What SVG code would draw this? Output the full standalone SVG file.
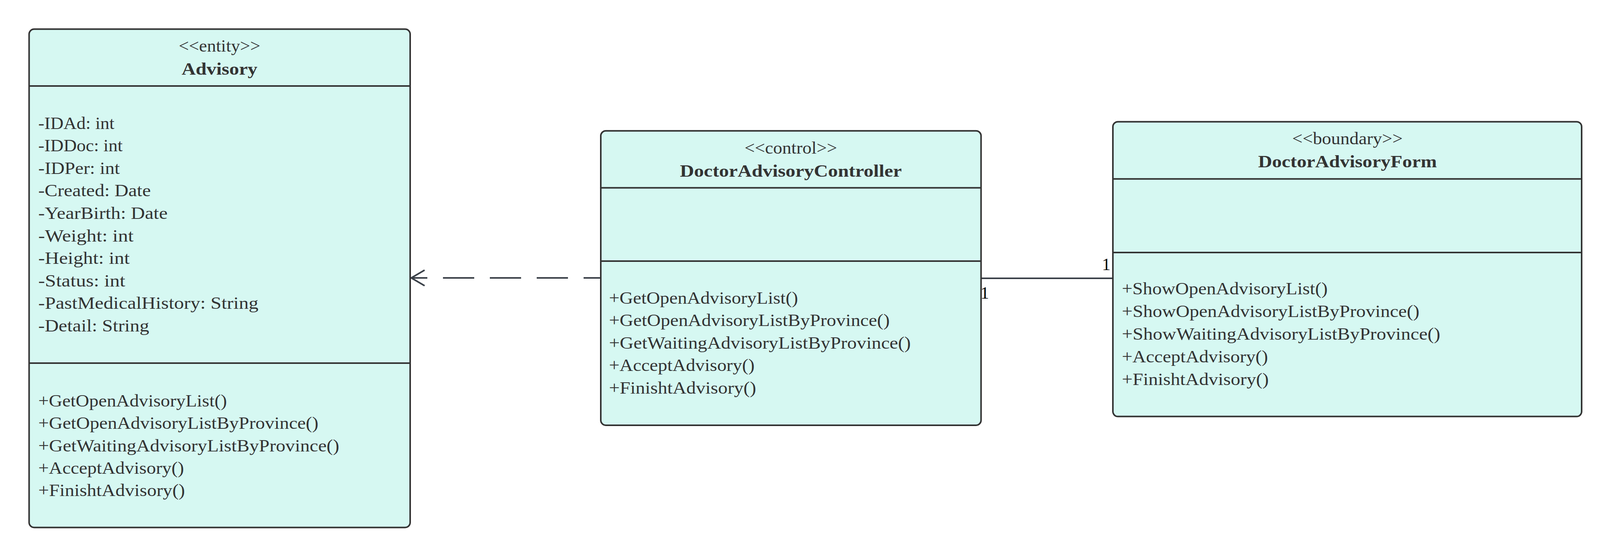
<svg xmlns="http://www.w3.org/2000/svg" width="4125" height="1425" viewBox="0 0 4125 1425">
<style>
.box{fill:#d6f8f2;stroke:#333333;stroke-width:4}
.div{stroke:#333333;stroke-width:4}
.t{font-family:"Liberation Serif","Times New Roman",serif;font-size:44px;fill:#333333}
.c{text-anchor:middle}
.b{font-weight:bold}
.edge{fill:none;stroke:#3a4048;stroke-width:4}
.lbl{font-family:"Liberation Serif","Times New Roman",serif;font-size:44px;fill:#000000}
</style>
<defs>
<marker id="openArrow" markerUnits="userSpaceOnUse" markerWidth="50" markerHeight="50" refX="2" refY="22" orient="auto" viewBox="0 0 50 44">
<path d="M36 2 L2 22 L36 42" fill="none" stroke="#3a4048" stroke-width="4"/>
</marker>
</defs>
<rect width="4125" height="1425" fill="#ffffff"/>
<g id="connectors">
<path class="edge" d="M1053 711 H1538" stroke-dasharray="80 40" stroke-dashoffset="39"/>
<path class="edge" d="M1053 711 H1094" marker-start="url(#openArrow)"/>
<path class="edge" d="M2511.5 712 H2849"/>
<text class="lbl" x="2510" y="763.5">1</text>
<text class="lbl" x="2821" y="690.5">1</text>
</g>
<g id="Advisory">
<rect class="box" x="74.5" y="74.5" width="975.5" height="1275" rx="13"/>
<line class="div" x1="74.5" y1="220" x2="1050" y2="220"/>
<line class="div" x1="74.5" y1="929" x2="1050" y2="929"/>
<text class="t c" x="562" y="131.7" textLength="209" lengthAdjust="spacingAndGlyphs">&lt;&lt;entity&gt;&gt;</text>
<text class="t c b" x="562" y="191" textLength="194" lengthAdjust="spacingAndGlyphs">Advisory</text>
<text class="t" x="98" y="329.5" textLength="195" lengthAdjust="spacingAndGlyphs">-IDAd: int</text>
<text class="t" x="98" y="387.1" textLength="216" lengthAdjust="spacingAndGlyphs">-IDDoc: int</text>
<text class="t" x="98" y="444.7" textLength="208.6" lengthAdjust="spacingAndGlyphs">-IDPer: int</text>
<text class="t" x="98" y="502.3" textLength="288" lengthAdjust="spacingAndGlyphs">-Created: Date</text>
<text class="t" x="98" y="559.9" textLength="331" lengthAdjust="spacingAndGlyphs">-YearBirth: Date</text>
<text class="t" x="98" y="617.5" textLength="244" lengthAdjust="spacingAndGlyphs">-Weight: int</text>
<text class="t" x="98" y="675.1" textLength="234" lengthAdjust="spacingAndGlyphs">-Height: int</text>
<text class="t" x="98" y="732.7" textLength="222.6" lengthAdjust="spacingAndGlyphs">-Status: int</text>
<text class="t" x="98" y="790.3" textLength="563.5" lengthAdjust="spacingAndGlyphs">-PastMedicalHistory: String</text>
<text class="t" x="98" y="847.9" textLength="284" lengthAdjust="spacingAndGlyphs">-Detail: String</text>
<text class="t" x="98" y="1040" textLength="483" lengthAdjust="spacingAndGlyphs">+GetOpenAdvisoryList()</text>
<text class="t" x="98" y="1097.3" textLength="717" lengthAdjust="spacingAndGlyphs">+GetOpenAdvisoryListByProvince()</text>
<text class="t" x="98" y="1154.6" textLength="770.5" lengthAdjust="spacingAndGlyphs">+GetWaitingAdvisoryListByProvince()</text>
<text class="t" x="98" y="1211.9" textLength="373" lengthAdjust="spacingAndGlyphs">+AcceptAdvisory()</text>
<text class="t" x="98" y="1269.2" textLength="375.5" lengthAdjust="spacingAndGlyphs">+FinishtAdvisory()</text>
</g>
<g id="DoctorAdvisoryController">
<rect class="box" x="1538" y="334.7" width="973.5" height="753.3" rx="13"/>
<line class="div" x1="1538" y1="480.6" x2="2511.5" y2="480.6"/>
<line class="div" x1="1538" y1="668" x2="2511.5" y2="668"/>
<text class="t c" x="2024.5" y="393" textLength="237" lengthAdjust="spacingAndGlyphs">&lt;&lt;control&gt;&gt;</text>
<text class="t c b" x="2024.5" y="451.5" textLength="568" lengthAdjust="spacingAndGlyphs">DoctorAdvisoryController</text>
<text class="t" x="1559" y="777" textLength="484" lengthAdjust="spacingAndGlyphs">+GetOpenAdvisoryList()</text>
<text class="t" x="1559" y="834.4" textLength="718.6" lengthAdjust="spacingAndGlyphs">+GetOpenAdvisoryListByProvince()</text>
<text class="t" x="1559" y="891.8" textLength="772.6" lengthAdjust="spacingAndGlyphs">+GetWaitingAdvisoryListByProvince()</text>
<text class="t" x="1559" y="949.2" textLength="372.6" lengthAdjust="spacingAndGlyphs">+AcceptAdvisory()</text>
<text class="t" x="1559" y="1006.6" textLength="376.7" lengthAdjust="spacingAndGlyphs">+FinishtAdvisory()</text>
</g>
<g id="DoctorAdvisoryForm">
<rect class="box" x="2849" y="311.4" width="1200" height="754.2" rx="13"/>
<line class="div" x1="2849" y1="457.8" x2="4049" y2="457.8"/>
<line class="div" x1="2849" y1="646" x2="4049" y2="646"/>
<text class="t c" x="3449.5" y="369" textLength="283" lengthAdjust="spacingAndGlyphs">&lt;&lt;boundary&gt;&gt;</text>
<text class="t c b" x="3449.5" y="428" textLength="457.6" lengthAdjust="spacingAndGlyphs">DoctorAdvisoryForm</text>
<text class="t" x="2872" y="753" textLength="526.7" lengthAdjust="spacingAndGlyphs">+ShowOpenAdvisoryList()</text>
<text class="t" x="2872" y="810.9" textLength="761.8" lengthAdjust="spacingAndGlyphs">+ShowOpenAdvisoryListByProvince()</text>
<text class="t" x="2872" y="868.8" textLength="815" lengthAdjust="spacingAndGlyphs">+ShowWaitingAdvisoryListByProvince()</text>
<text class="t" x="2872" y="926.7" textLength="374" lengthAdjust="spacingAndGlyphs">+AcceptAdvisory()</text>
<text class="t" x="2872" y="984.5" textLength="376" lengthAdjust="spacingAndGlyphs">+FinishtAdvisory()</text>
</g>
</svg>
